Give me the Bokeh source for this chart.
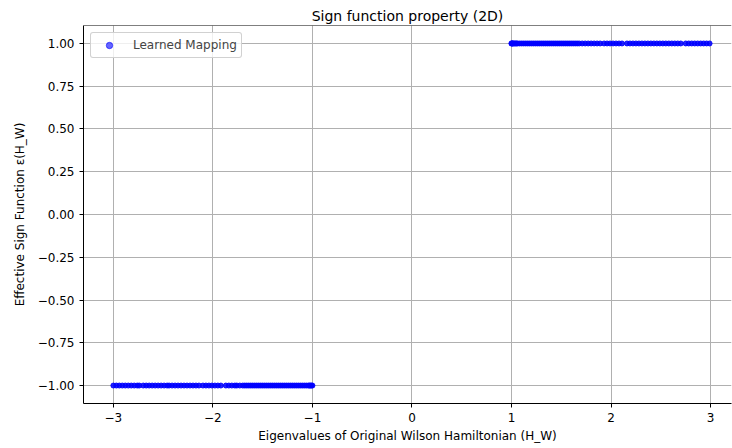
from bokeh.plotting import figure
from bokeh.models import ColumnDataSource, FixedTicker, Range1d, Span, Legend, LegendItem
from bokeh.embed import file_html
from bokeh.resources import INLINE

# Eigenvalues of the Wilson Hamiltonian H_W (negative and positive branches)
eig_neg = [
    -3.00, -2.97, -2.94, -2.91, -2.88, -2.85, -2.82, -2.79, -2.76, -2.74,
    -2.70, -2.67, -2.64, -2.61, -2.58, -2.55, -2.52, -2.49, -2.46,
    -2.44, -2.41, -2.38, -2.35, -2.32, -2.29, -2.26, -2.23, -2.20, -2.17, -2.14,
    -2.10, -2.07, -2.04, -2.01, -1.98, -1.95, -1.92,
    -1.87, -1.84, -1.81, -1.78, -1.76, -1.73, -1.70, -1.68, -1.66, -1.64,
    -1.62, -1.60, -1.58, -1.56, -1.54, -1.52, -1.50, -1.48, -1.46, -1.44,
    -1.42, -1.40, -1.38, -1.36, -1.34, -1.32, -1.30, -1.28, -1.26, -1.24,
    -1.22, -1.20, -1.18, -1.16, -1.14, -1.12, -1.10, -1.08, -1.06, -1.04,
    -1.03, -1.02, -1.01, -1.00,
]
eig_pos = [
    1.00, 1.00, 1.01, 1.01, 1.02, 1.03, 1.04, 1.05, 1.06, 1.08,
    1.10, 1.12, 1.14, 1.16, 1.18, 1.20, 1.22, 1.24, 1.26, 1.28,
    1.30, 1.32, 1.34, 1.36, 1.38, 1.40, 1.42, 1.44, 1.46, 1.48,
    1.50, 1.52, 1.54, 1.56, 1.58, 1.60, 1.62, 1.64, 1.66, 1.68,
    1.71, 1.74, 1.77, 1.80, 1.83, 1.86, 1.89,
    1.93, 1.96, 1.99, 2.02, 2.05, 2.08, 2.11,
    2.16, 2.19, 2.22, 2.25, 2.28, 2.31, 2.34, 2.37, 2.40, 2.43,
    2.46, 2.49, 2.52, 2.55, 2.58, 2.61, 2.64, 2.67, 2.70,
    2.75, 2.78, 2.81, 2.84, 2.87, 2.90, 2.93, 2.96, 2.99,
]
# Learned sign-function output for each eigenvalue
sign_neg = [-1.0] * len(eig_neg)
sign_pos = [1.0] * len(eig_pos)

x_ticks = [-3, -2, -1, 0, 1, 2, 3]
x_tick_labels = ["−3", "−2", "−1", "0", "1", "2", "3"]
y_ticks = [-1.0, -0.75, -0.5, -0.25, 0.0, 0.25, 0.5, 0.75, 1.0]
y_tick_labels = ["−1.00", "−0.75", "−0.50", "−0.25", "0.00", "0.25", "0.50", "0.75", "1.00"]

FONT = "DejaVu Sans"

src = ColumnDataSource(data=dict(x=eig_neg + eig_pos, y=sign_neg + sign_pos))

p = figure(
    width=732, height=448,
    output_backend="svg", toolbar_location=None,
    x_range=Range1d(-3.3, 3.21), y_range=Range1d(-1.105, 1.105),
    min_border_left=83, min_border_right=1, min_border_top=25, min_border_bottom=45,
    title="Sign function property (2D)",
)
p.outline_line_color = None
p.background_fill_color = "white"
p.border_fill_color = "white"

p.title.align = "center"
p.title.offset = 4
p.title.standoff = 4
p.title.text_font = FONT
p.title.text_font_size = "14px"
p.title.text_font_style = "normal"
p.title.text_color = "black"

p.scatter("x", "y", source=src, size=5, color="blue", alpha=0.85)

# smaller marker used only for the legend entry (no visible points)
legend_marker = p.scatter(x=[float("nan")], y=[float("nan")], size=3.5, color="blue", alpha=0.6)

# top spine
p.add_layout(Span(location=1.105, dimension="width", line_color="black", line_width=1))

for ax in (p.xaxis[0], p.yaxis[0]):
    ax.axis_line_color = "black"
    ax.major_tick_line_color = "black"
    ax.major_tick_out = 4
    ax.major_tick_in = 0
    ax.minor_tick_line_color = None
    ax.major_label_text_font = FONT
    ax.major_label_text_font_size = "12px"
    ax.major_label_text_color = "black"
    ax.axis_label_text_font = FONT
    ax.axis_label_text_font_size = "12px"
    ax.axis_label_text_font_style = "normal"
    ax.axis_label_text_color = "black"

p.xaxis.ticker = FixedTicker(ticks=x_ticks)
p.xaxis.major_label_overrides = {t: l for t, l in zip(x_ticks, x_tick_labels)}
p.yaxis.ticker = FixedTicker(ticks=y_ticks)
p.yaxis.major_label_overrides = {t: l for t, l in zip(y_ticks, y_tick_labels)}
p.xaxis.axis_label = "Eigenvalues of Original Wilson Hamiltonian (H_W)"
p.yaxis.axis_label = "Effective Sign Function ε(H_W)"
p.xaxis.axis_label_standoff = 4
p.yaxis.axis_label_standoff = 8

p.xgrid.ticker = FixedTicker(ticks=x_ticks)
p.ygrid.ticker = FixedTicker(ticks=y_ticks)
p.grid.grid_line_color = "#b0b0b0"
p.grid.grid_line_width = 1

legend = Legend(items=[LegendItem(label="Learned Mapping", renderers=[legend_marker])],
                location="top_left")
legend.margin = 7
legend.padding = 4
legend.glyph_width = 28
legend.glyph_height = 16
legend.label_height = 16
legend.label_standoff = 10
legend.label_text_font = FONT
legend.label_text_font_size = "12px"
legend.border_line_color = "#cccccc"
legend.border_line_alpha = 0.9
legend.background_fill_alpha = 0.8
legend.border_radius = 3
p.add_layout(legend)

open("out.html", "w").write(file_html(p, INLINE))
